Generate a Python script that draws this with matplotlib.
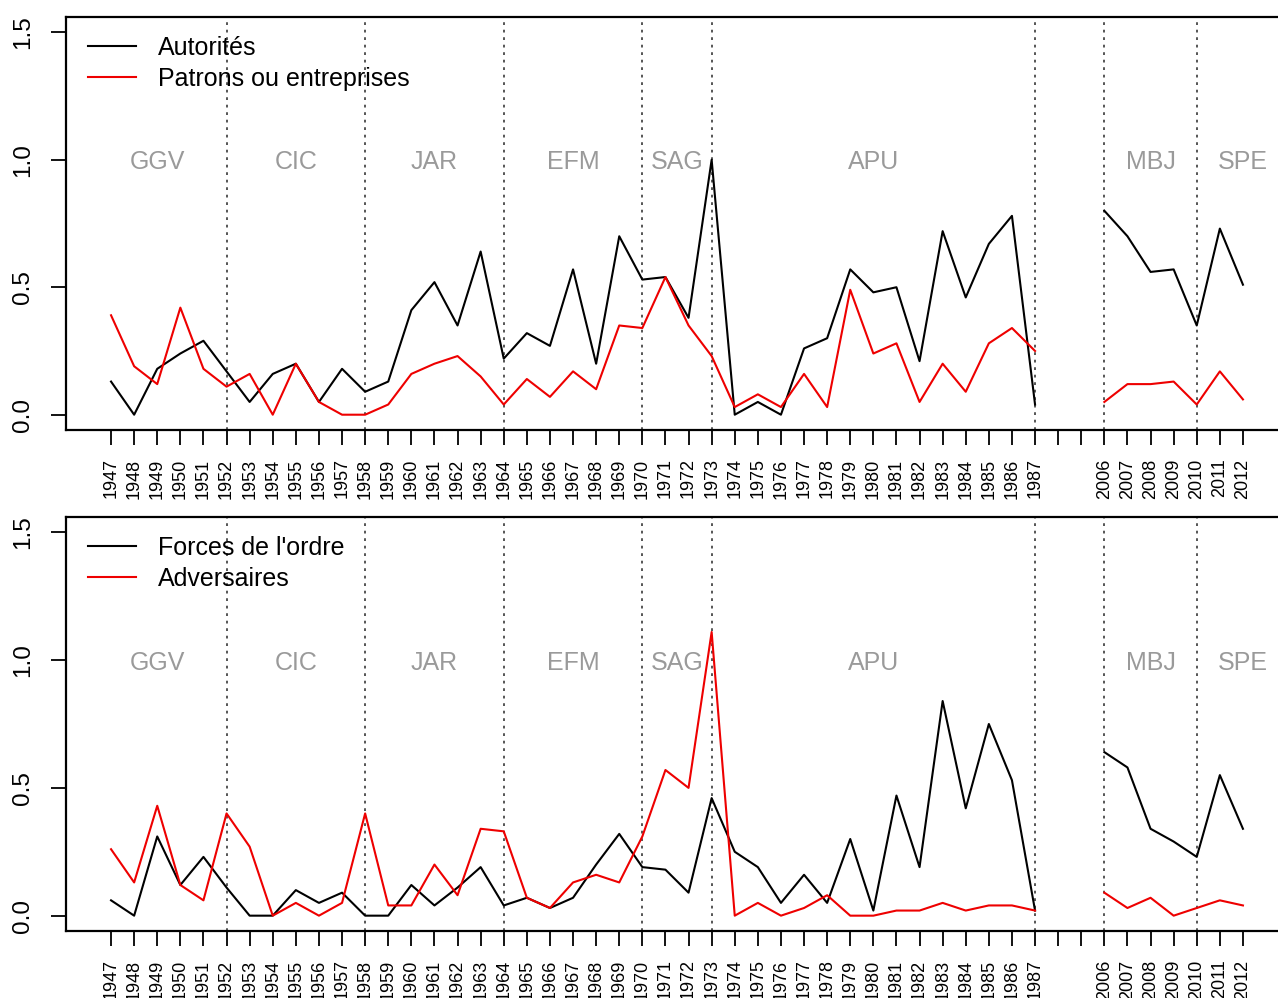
import numpy as np
import matplotlib
matplotlib.use("Agg")
import matplotlib.pyplot as plt

plt.rcParams['font.family'] = ['Liberation Sans', 'DejaVu Sans']
plt.rcParams['lines.scale_dashes'] = False

years_a = list(range(1947, 1988))
years_b = list(range(2006, 2013))

# Top panel
autorites_a = [0.13, 0.00, 0.18, 0.24, 0.29, 0.17, 0.05, 0.16, 0.20, 0.05,
               0.18, 0.09, 0.13, 0.41, 0.52, 0.35, 0.64, 0.22, 0.32, 0.27,
               0.57, 0.20, 0.70, 0.53, 0.54, 0.38, 1.00, 0.00, 0.05, 0.00,
               0.26, 0.30, 0.57, 0.48, 0.50, 0.21, 0.72, 0.46, 0.67, 0.78,
               0.04]
autorites_b = [0.80, 0.70, 0.56, 0.57, 0.35, 0.73, 0.51]
patrons_a = [0.39, 0.19, 0.12, 0.42, 0.18, 0.11, 0.16, 0.00, 0.20, 0.05,
             0.00, 0.00, 0.04, 0.16, 0.20, 0.23, 0.15, 0.04, 0.14, 0.07,
             0.17, 0.10, 0.35, 0.34, 0.54, 0.35, 0.23, 0.03, 0.08, 0.03,
             0.16, 0.03, 0.49, 0.24, 0.28, 0.05, 0.20, 0.09, 0.28, 0.34,
             0.25]
patrons_b = [0.05, 0.12, 0.12, 0.13, 0.04, 0.17, 0.06]

# Bottom panel
forces_a = [0.06, 0.00, 0.31, 0.12, 0.23, 0.11, 0.00, 0.00, 0.10, 0.05,
            0.09, 0.00, 0.00, 0.12, 0.04, 0.11, 0.19, 0.04, 0.07, 0.03,
            0.07, 0.20, 0.32, 0.19, 0.18, 0.09, 0.46, 0.25, 0.19, 0.05,
            0.16, 0.05, 0.30, 0.02, 0.47, 0.19, 0.84, 0.42, 0.75, 0.53,
            0.02]
forces_b = [0.64, 0.58, 0.34, 0.29, 0.23, 0.55, 0.34]
advers_a = [0.26, 0.13, 0.43, 0.12, 0.06, 0.40, 0.27, 0.00, 0.05, 0.00,
            0.05, 0.40, 0.04, 0.04, 0.20, 0.08, 0.34, 0.33, 0.07, 0.03,
            0.13, 0.16, 0.13, 0.31, 0.57, 0.50, 1.11, 0.00, 0.05, 0.00,
            0.03, 0.08, 0.00, 0.00, 0.02, 0.02, 0.05, 0.02, 0.04, 0.04,
            0.02]
advers_b = [0.09, 0.03, 0.07, 0.00, 0.03, 0.06, 0.04]

gap = 2  # number of empty slots between the two periods
tick_labels = [str(y) for y in years_a] + [''] * gap + [str(y) for y in years_b]

period_names = ['GGV', 'CIC', 'JAR', 'EFM', 'SAG', 'APU', 'MBJ', 'SPE']
period_pos = [2, 8, 14, 20, 24.5, 33, 45, 49]
boundary_years = [1952, 1958, 1964, 1970, 1973, 1987, 2006, 2010]

pos_a = np.arange(len(years_a))
pos_b = np.arange(len(years_b)) + len(years_a) + gap
all_pos = np.arange(len(tick_labels))


def year_pos(y):
    if y in years_a:
        return pos_a[years_a.index(y)]
    return pos_b[years_b.index(y)]


W, H = 1278, 998
fig = plt.figure(figsize=(W / 100, H / 100), dpi=100)

px_unit = 23.1
xlim = (-1.95, 50.96)
ax_w = (xlim[1] - xlim[0]) * px_unit

panels = [
    dict(top=17, bottom=430, s1=(autorites_a, autorites_b, 'Autorités'),
         s2=(patrons_a, patrons_b, 'Patrons ou entreprises')),
    dict(top=517, bottom=931, s1=(forces_a, forces_b, "Forces de l'ordre"),
         s2=(advers_a, advers_b, 'Adversaires')),
]

for p in panels:
    ax = fig.add_axes([66 / W, 1 - p['bottom'] / H, ax_w / W,
                       (p['bottom'] - p['top']) / H])
    ax.set_xlim(*xlim)
    ax.set_ylim(-0.06, 1.56)
    for yb in boundary_years:
        ax.axvline(year_pos(yb), color='#555555', lw=1.4,
                   linestyle=(0, (2.0, 3.4)), zorder=1)
    for name, xp in zip(period_names, period_pos):
        ax.text(xp, 0.962, name, color='#9a9a9a', fontsize=18,
                ha='center', va='baseline', zorder=2)
    a, b, lab = p['s1']
    ax.plot(pos_a, a, color='black', lw=1.5, label=lab, zorder=3)
    ax.plot(pos_b, b, color='black', lw=1.5, zorder=3)
    a, b, lab = p['s2']
    ax.plot(pos_a, a, color='#ee0000', lw=1.5, label=lab, zorder=3)
    ax.plot(pos_b, b, color='#ee0000', lw=1.5, zorder=3)

    ax.set_xticks(all_pos)
    ax.set_xticklabels(tick_labels, rotation=90, fontsize=13)
    ax.set_yticks([0.0, 0.5, 1.0, 1.5])
    ax.set_yticklabels(['0.0', '0.5', '1.0', '1.5'], fontsize=17.5,
                       rotation=90, va='center')
    ax.tick_params(axis='x', length=10.5, width=1.3, pad=10)
    ax.tick_params(axis='y', length=11, width=1.3, pad=12)
    for s in ax.spines.values():
        s.set_linewidth(1.6)

    leg = ax.legend(loc='upper left',
                    bbox_to_anchor=(22 / ax_w, 1 - 19 / (p['bottom'] - p['top'])),
                    frameon=False, fontsize=18, handlelength=1.9,
                    handletextpad=0.9, labelspacing=0.27, borderpad=0,
                    borderaxespad=0)
    for line in leg.get_lines():
        line.set_linewidth(1.5)

fig.savefig('out.png', dpi=100)
